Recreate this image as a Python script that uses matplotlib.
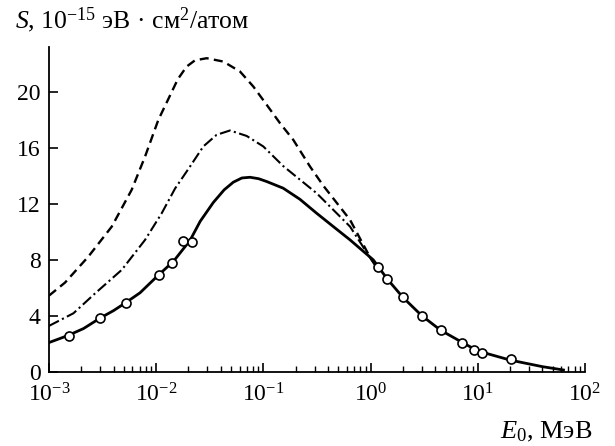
import matplotlib
matplotlib.use("Agg")
import matplotlib.pyplot as plt
from matplotlib.ticker import LogLocator, NullFormatter, FixedLocator

plt.rcParams['font.family'] = ['Liberation Serif', 'DejaVu Serif']
plt.rcParams['mathtext.fontset'] = 'custom'
plt.rcParams['mathtext.rm'] = 'Liberation Serif'
plt.rcParams['mathtext.it'] = 'Liberation Serif:italic'
plt.rcParams['lines.scale_dashes'] = False

# solid curve
e_solid = [0.001, 0.0015, 0.0021, 0.003, 0.004, 0.0052, 0.00706, 0.0106, 0.0145,
           0.0207, 0.0257, 0.0341, 0.043, 0.0524, 0.063, 0.075, 0.09, 0.107,
           0.153, 0.219, 0.314, 0.449, 0.643, 1.06, 1.17, 1.43, 2.0, 3.0, 4.5,
           7.2, 10.0, 20.0, 40.0, 63.0]
s_solid = [2.1, 2.6, 3.1, 3.85, 4.38, 4.95, 5.65, 6.95, 7.9,
           9.4, 10.75, 12.1, 13.0, 13.55, 13.85, 13.9, 13.8, 13.6,
           13.12, 12.33, 11.33, 10.38, 9.43, 8.0, 7.55, 6.64, 5.33, 4.02, 2.98,
           2.1, 1.5, 0.85, 0.38, 0.14]

# dashed curve
e_dash = [0.001, 0.00141, 0.00233, 0.00385, 0.0059, 0.00787, 0.01047, 0.013,
          0.0159, 0.0192, 0.023, 0.0296, 0.0423, 0.0605, 0.0805, 0.1074, 0.1429,
          0.19, 0.272, 0.362, 0.643, 0.986, 1.1]
s_dash = [5.45, 6.38, 8.24, 10.38, 13.0, 15.38, 18.0, 19.5,
          20.9, 21.8, 22.25, 22.4, 22.16, 21.45, 20.38, 19.07, 17.76,
          16.57, 14.67, 13.3, 10.86, 8.2, 7.65]

# dash-dot curve
e_dd = [0.001, 0.00169, 0.0027, 0.00477, 0.00787, 0.01125, 0.015, 0.0204,
        0.0275, 0.0366, 0.0488, 0.0698, 0.0998, 0.153, 0.314, 0.643, 1.0, 1.1]
s_dd = [3.29, 4.19, 5.62, 7.29, 9.43, 11.33, 13.1, 14.6,
        16.1, 16.93, 17.24, 16.85, 16.1, 14.7, 12.76, 10.38, 8.1, 7.65]

# experimental points
e_pts = [0.00153, 0.00301, 0.00519, 0.0106, 0.014, 0.0177, 0.0217,
         1.17, 1.43, 1.99, 3.02, 4.5, 7.18, 9.16, 11.0, 20.4]
s_pts = [2.57, 3.88, 4.95, 6.95, 7.81, 9.36, 9.31,
         7.52, 6.64, 5.33, 4.02, 2.98, 2.1, 1.55, 1.38, 0.9]

yticks = [0, 4, 8, 12, 16, 20]

fig = plt.figure(figsize=(6.15, 4.46), dpi=100)
ax = fig.add_axes([0.0797, 0.166, 0.8715, 0.7286])

ax.plot(e_dash, s_dash, color='black', lw=1.7, linestyle=(0, (6.5, 3.8)))
ax.plot(e_dd, s_dd, color='black', lw=1.5, linestyle=(0, (8, 2.5, 1.5, 2.5)))
ax.plot(e_solid, s_solid, color='black', lw=2.0)
ax.plot(e_pts, s_pts, linestyle='none', marker='o', ms=6.5, mfc='white',
        mec='black', mew=1.2)

ax.set_xscale('log')
ax.set_xlim(1e-3, 1e2)
ax.set_ylim(0, 23.2)
ax.yaxis.set_major_locator(FixedLocator(yticks))
ax.xaxis.set_major_locator(LogLocator(base=10, numticks=10))
ax.xaxis.set_minor_locator(LogLocator(base=10, subs=range(2, 10), numticks=20))
ax.xaxis.set_minor_formatter(NullFormatter())

ax.spines['top'].set_visible(False)
ax.spines['right'].set_visible(False)
for sp in ('left', 'bottom'):
    ax.spines[sp].set_linewidth(1.3)

ax.tick_params(which='major', direction='in', length=6.5, width=1.2,
               labelsize=17)
ax.tick_params(axis='x', which='major', pad=8)
ax.tick_params(axis='y', which='major', pad=6)
ax.tick_params(which='minor', direction='in', length=4.5, width=1.0)

fig.text(0.024, 0.955, '$S$, 10$^{-15}$ эВ · см$^2$/атом', fontsize=18.5,
         ha='left', va='center')
fig.text(0.964, 0.032, '$E_0$, МэВ', fontsize=19, ha='right', va='center')

plt.savefig('out.png', dpi=100)
